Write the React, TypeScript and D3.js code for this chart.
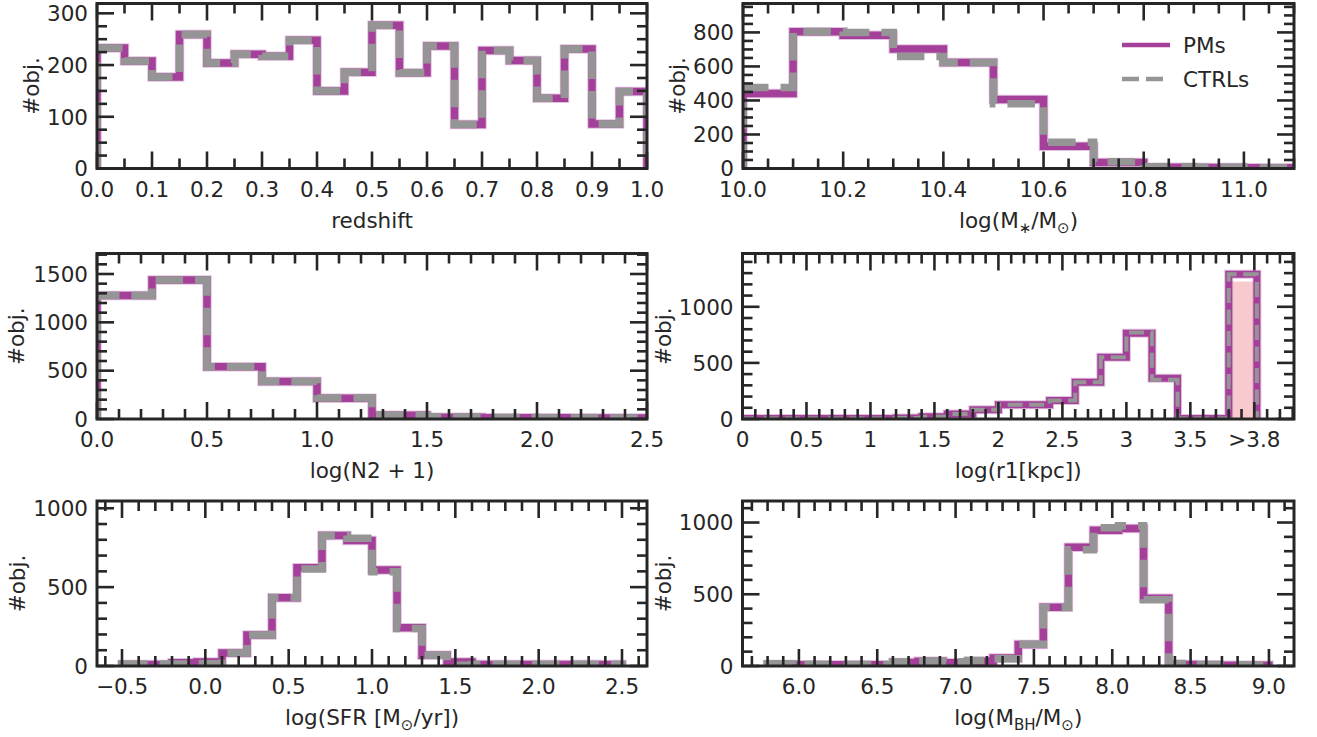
import React from "react";
import * as d3 from "d3";

// ---- colours ----
const PM_COLOR = "#a4409a";
const PM_HALO = "rgba(190,120,185,0.45)";
const CTRL_COLOR = "#959595";
const INK = "#262626";
const PINK = "#f9cacd";
const FONT = "DejaVu Sans";

// ---- redshift ----
const zEdges = [0, 0.05, 0.1, 0.15, 0.2, 0.25, 0.3, 0.35, 0.4, 0.45, 0.5, 0.55, 0.6, 0.65, 0.7, 0.75, 0.8, 0.85, 0.9, 0.95, 1.0];
const zPM = [233, 208, 177, 259, 204, 221, 217, 248, 150, 186, 277, 185, 237, 85, 228, 209, 136, 231, 86, 149];
const zCTRL = [233, 208, 177, 259, 204, 221, 217, 248, 150, 186, 277, 185, 237, 85, 228, 209, 136, 231, 86, 149];
const zXTicks = [0, 0.1, 0.2, 0.3, 0.4, 0.5, 0.6, 0.7, 0.8, 0.9, 1.0];
const zXLabels = ["0.0", "0.1", "0.2", "0.3", "0.4", "0.5", "0.6", "0.7", "0.8", "0.9", "1.0"];
const zYTicks = [0, 100, 200, 300];

// ---- stellar mass ----
const mEdges = [10.0, 10.1, 10.2, 10.3, 10.4, 10.5, 10.6, 10.7, 10.8, 10.9, 11.0, 11.1];
const mPM = [441, 804, 783, 702, 623, 406, 131, 35, 8, 6, 5];
const mCTRL = [476, 806, 800, 659, 623, 380, 155, 40, 10, 7, 5];
const mXTicks = [10.0, 10.2, 10.4, 10.6, 10.8, 11.0];
const mXLabels = ["10.0", "10.2", "10.4", "10.6", "10.8", "11.0"];
const mYTicks = [0, 200, 400, 600, 800];

// ---- N2 ----
const nEdges = [0, 0.25, 0.5, 0.75, 1.0, 1.25, 1.5, 1.75, 2.0, 2.25, 2.5];
const nPM = [1278, 1437, 540, 387, 214, 40, 18, 14, 12, 10];
const nCTRL = [1278, 1437, 540, 390, 216, 40, 20, 15, 12, 10];
const nXTicks = [0, 0.5, 1.0, 1.5, 2.0, 2.5];
const nXLabels = ["0.0", "0.5", "1.0", "1.5", "2.0", "2.5"];
const nYTicks = [0, 500, 1000, 1500];

// ---- r1 ----
const rEdges = [0, 0.2, 0.4, 0.6, 0.8, 1.0, 1.2, 1.4, 1.6, 1.8, 2.0, 2.2, 2.4, 2.6, 2.8, 3.0, 3.2, 3.4, 3.6, 3.8, 4.02];
const rPM = [5, 5, 5, 5, 5, 5, 8, 20, 45, 83, 128, 128, 164, 327, 550, 765, 363, 5, 5, 1290];
const rCTRL = [5, 5, 5, 5, 5, 5, 8, 20, 45, 83, 128, 128, 164, 327, 550, 770, 350, 5, 5, 1290];
const rOverflowEdges = [3.8, 4.02];
const rOverflowValue = 1225;
const rXTicks = [0, 0.5, 1, 1.5, 2, 2.5, 3, 3.5, 4.0];
const rXLabels = ["0", "0.5", "1", "1.5", "2", "2.5", "3", "3.5", ">3.8"];
const rYTicks = [0, 500, 1000];

// ---- SFR ----
const sEdges = [-0.5, -0.35, -0.2, -0.05, 0.1, 0.25, 0.4, 0.55, 0.7, 0.85, 1.0, 1.15, 1.3, 1.45, 1.6, 1.75, 1.9, 2.05, 2.2, 2.35, 2.5];
const sPM = [10, 10, 20, 25, 82, 196, 432, 623, 828, 796, 608, 243, 68, 25, 10, 10, 10, 10, 10, 10];
const sCTRL = [12, 12, 12, 15, 83, 196, 434, 615, 828, 810, 598, 238, 68, 4, 10, 10, 10, 10, 10, 10];
const sXTicks = [-0.5, 0, 0.5, 1.0, 1.5, 2.0, 2.5];
const sXLabels = ["\u22120.5", "0.0", "0.5", "1.0", "1.5", "2.0", "2.5"];
const sYTicks = [0, 500, 1000];

// ---- black hole mass ----
const bEdges = [5.8, 5.96, 6.12, 6.28, 6.44, 6.6, 6.76, 6.92, 7.08, 7.24, 7.4, 7.56, 7.72, 7.88, 8.04, 8.2, 8.36, 8.52, 8.68, 8.84, 9.0];
const bPM = [10, 8, 8, 8, 8, 25, 33, 22, 33, 55, 150, 410, 828, 946, 958, 472, 10, 8, 6, 6];
const bCTRL = [15, 12, 10, 10, 10, 28, 35, 30, 38, 50, 152, 408, 811, 963, 977, 462, 18, 10, 8, 6];
const bXTicks = [6.0, 6.5, 7.0, 7.5, 8.0, 8.5, 9.0];
const bXLabels = ["6.0", "6.5", "7.0", "7.5", "8.0", "8.5", "9.0"];
const bYTicks = [0, 500, 1000];

const FS = 21.5;
const SUB = 15;

type Cfg = {
  id: string;
  left: number; right: number; top: number; bottom: number;
  xDomain: [number, number]; yDomain: [number, number];
  edges: number[]; pm: number[]; ctrl: number[];
  xTicks: number[]; xLabels: string[]; xMinor: number;
  yTicks: number[]; yMinor: number;
  xlabel: React.ReactNode; ylabelX: number;
  pmWidth: number; ctrlWidth: number; dash: string;
  legend?: boolean;
  overflow?: { edges: number[]; value: number };
};

const panels: Cfg[] = [
  {
    id: "z", left: 97, right: 647, top: 3.5, bottom: 168.5,
    xDomain: [0, 1], yDomain: [0, 319],
    edges: zEdges, pm: zPM, ctrl: zCTRL,
    xTicks: zXTicks, xLabels: zXLabels, xMinor: 0.05,
    yTicks: zYTicks, yMinor: 25,
    xlabel: "redshift", ylabelX: 38.5,
    pmWidth: 7.5, ctrlWidth: 7.5, dash: "27.5 12",
  },
  {
    id: "m", left: 743, right: 1294, top: 3.5, bottom: 168.5,
    xDomain: [10.0, 11.1], yDomain: [0, 970],
    edges: mEdges, pm: mPM, ctrl: mCTRL,
    xTicks: mXTicks, xLabels: mXLabels, xMinor: 0.05,
    yTicks: mYTicks, yMinor: 50,
    xlabel: (
      <>
        log(M<tspan dy={5} fontSize={SUB}>{"\u2217"}</tspan>
        <tspan dy={-5}>/M</tspan>
        <tspan dy={5} fontSize={SUB}>{"\u2299"}</tspan>
        <tspan dy={-5}>)</tspan>
      </>
    ),
    ylabelX: 685,
    pmWidth: 7.5, ctrlWidth: 7.5, dash: "27.5 12",
    legend: true,
  },
  {
    id: "n", left: 97, right: 647, top: 253.5, bottom: 419,
    xDomain: [0, 2.5], yDomain: [0, 1712],
    edges: nEdges, pm: nPM, ctrl: nCTRL,
    xTicks: nXTicks, xLabels: nXLabels, xMinor: 0.1,
    yTicks: nYTicks, yMinor: 100,
    xlabel: "log(N2 + 1)", ylabelX: 24,
    pmWidth: 7.5, ctrlWidth: 7.5, dash: "27.5 12",
  },
  {
    id: "r", left: 742.5, right: 1294, top: 253.5, bottom: 419,
    xDomain: [0, 4.31], yDomain: [0, 1475],
    edges: rEdges, pm: rPM, ctrl: rCTRL,
    xTicks: rXTicks, xLabels: rXLabels, xMinor: 0.1,
    yTicks: rYTicks, yMinor: 100,
    xlabel: "log(r1[kpc])", ylabelX: 671,
    pmWidth: 7, ctrlWidth: 4, dash: "15 6.5",
    overflow: { edges: rOverflowEdges, value: rOverflowValue },
  },
  {
    id: "s", left: 97, right: 647, top: 501, bottom: 666,
    xDomain: [-0.65, 2.65], yDomain: [0, 1046],
    edges: sEdges, pm: sPM, ctrl: sCTRL,
    xTicks: sXTicks, xLabels: sXLabels, xMinor: 0.1,
    yTicks: sYTicks, yMinor: 100,
    xlabel: (
      <>
        log(SFR [M<tspan dy={5} fontSize={SUB}>{"\u2299"}</tspan>
        <tspan dy={-5}>/yr])</tspan>
      </>
    ),
    ylabelX: 25,
    pmWidth: 7.5, ctrlWidth: 7.5, dash: "27.5 12",
  },
  {
    id: "b", left: 742.5, right: 1294, top: 501, bottom: 666,
    xDomain: [5.64, 9.16], yDomain: [0, 1150],
    edges: bEdges, pm: bPM, ctrl: bCTRL,
    xTicks: bXTicks, xLabels: bXLabels, xMinor: 0.1,
    yTicks: bYTicks, yMinor: 100,
    xlabel: (
      <>
        log(M<tspan dy={5} fontSize={SUB}>BH</tspan>
        <tspan dy={-5}>/M</tspan>
        <tspan dy={5} fontSize={SUB}>{"\u2299"}</tspan>
        <tspan dy={-5}>)</tspan>
      </>
    ),
    ylabelX: 671,
    pmWidth: 7.5, ctrlWidth: 7.5, dash: "27.5 12",
  },
];

function minorTicks(domain: [number, number], step: number, majors: number[]) {
  const out: number[] = [];
  const i0 = Math.ceil(domain[0] / step - 1e-9);
  const i1 = Math.floor(domain[1] / step + 1e-9);
  for (let i = i0; i <= i1; i++) {
    const v = +(i * step).toFixed(6);
    if (!majors.some((m) => Math.abs(m - v) < step * 0.01)) out.push(v);
  }
  return out;
}

function stepPoints(edges: number[], vals: number[]): [number, number][] {
  const pts: [number, number][] = [[edges[0], 0]];
  vals.forEach((v, i) => {
    pts.push([edges[i], v]);
    pts.push([edges[i + 1], v]);
  });
  pts.push([edges[edges.length - 1], 0]);
  return pts;
}

const MAJ = 17;
const MIN = 10;
const TW = 2.6;

function Panel({ cfg }: { cfg: Cfg }) {
  const x = d3.scaleLinear().domain(cfg.xDomain).range([cfg.left, cfg.right]);
  const y = d3.scaleLinear().domain(cfg.yDomain).range([cfg.bottom, cfg.top]);
  const line = d3
    .line<[number, number]>()
    .x((d) => x(d[0]))
    .y((d) => y(d[1]));
  const pmPath = line(stepPoints(cfg.edges, cfg.pm)) || "";
  const ctrlPath = line(stepPoints(cfg.edges, cfg.ctrl)) || "";
  const xMin = minorTicks(cfg.xDomain, cfg.xMinor, cfg.xTicks);
  const yMin = minorTicks(cfg.yDomain, cfg.yMinor, cfg.yTicks);
  const clipId = `clip-${cfg.id}`;
  const cx = (cfg.left + cfg.right) / 2;
  const cy = (cfg.top + cfg.bottom) / 2;

  return (
    <g>
      <defs>
        <clipPath id={clipId}>
          <rect x={cfg.left} y={cfg.top} width={cfg.right - cfg.left} height={cfg.bottom - cfg.top} />
        </clipPath>
      </defs>
      <g clipPath={`url(#${clipId})`}>
        {cfg.overflow && (
          <rect
            x={x(cfg.overflow.edges[0])}
            y={y(cfg.overflow.value)}
            width={x(cfg.overflow.edges[1]) - x(cfg.overflow.edges[0])}
            height={y(0) - y(cfg.overflow.value)}
            fill={PINK}
          />
        )}
        <path d={pmPath} fill="none" stroke={PM_HALO} strokeWidth={cfg.pmWidth + 2} strokeLinejoin="miter" />
        <path d={pmPath} fill="none" stroke={PM_COLOR} strokeWidth={cfg.pmWidth} strokeLinejoin="miter" />
        <path
          d={ctrlPath}
          fill="none"
          stroke={CTRL_COLOR}
          strokeWidth={cfg.ctrlWidth}
          strokeDasharray={cfg.dash}
          strokeLinejoin="miter"
        />
      </g>

      {/* ticks on all four sides, pointing inwards */}
      <g stroke={INK} strokeWidth={TW}>
        {cfg.xTicks.map((t) => (
          <g key={`xt${t}`}>
            <line x1={x(t)} x2={x(t)} y1={cfg.bottom} y2={cfg.bottom - MAJ} />
            <line x1={x(t)} x2={x(t)} y1={cfg.top} y2={cfg.top + MAJ} />
          </g>
        ))}
        {xMin.map((t) => (
          <g key={`xm${t}`}>
            <line x1={x(t)} x2={x(t)} y1={cfg.bottom} y2={cfg.bottom - MIN} />
            <line x1={x(t)} x2={x(t)} y1={cfg.top} y2={cfg.top + MIN} />
          </g>
        ))}
        {cfg.yTicks.map((t) => (
          <g key={`yt${t}`}>
            <line x1={cfg.left} x2={cfg.left + MAJ} y1={y(t)} y2={y(t)} />
            <line x1={cfg.right} x2={cfg.right - MAJ} y1={y(t)} y2={y(t)} />
          </g>
        ))}
        {yMin.map((t) => (
          <g key={`ym${t}`}>
            <line x1={cfg.left} x2={cfg.left + MIN} y1={y(t)} y2={y(t)} />
            <line x1={cfg.right} x2={cfg.right - MIN} y1={y(t)} y2={y(t)} />
          </g>
        ))}
      </g>

      <rect
        x={cfg.left}
        y={cfg.top}
        width={cfg.right - cfg.left}
        height={cfg.bottom - cfg.top}
        fill="none"
        stroke={INK}
        strokeWidth={3}
      />

      <g fill={INK} fontFamily={FONT} fontSize={FS}>
        {cfg.xTicks.map((t, i) => (
          <text key={`xl${t}`} x={x(t)} y={cfg.bottom + 28} textAnchor="middle">
            {cfg.xLabels[i]}
          </text>
        ))}
        {cfg.yTicks.map((t) => (
          <text key={`yl${t}`} x={cfg.left - 9} y={y(t)} dy="0.36em" textAnchor="end">
            {t}
          </text>
        ))}
        <text x={cx} y={cfg.bottom + 59} textAnchor="middle">
          {cfg.xlabel}
        </text>
        <text transform={`translate(${cfg.ylabelX},${cy}) rotate(-90)`} textAnchor="middle">
          #obj.
        </text>
      </g>

      {cfg.legend && (
        <g fontFamily={FONT} fontSize={FS} fill={INK}>
          <line x1={1122} x2={1170} y1={45} y2={45} stroke={PM_COLOR} strokeWidth={4.5} />
          <text x={1183} y={53}>PMs</text>
          <line x1={1122} x2={1170} y1={79} y2={79} stroke={CTRL_COLOR} strokeWidth={4.5} strokeDasharray="17 7" />
          <text x={1183} y={87}>CTRLs</text>
        </g>
      )}
    </g>
  );
}

export default function App() {
  return (
    <svg
      width={1317}
      height={737}
      viewBox="0 0 1317 737"
      style={{ position: "absolute", left: 0, top: 0, background: "#fff" }}
    >
      <rect width={1317} height={737} fill="#fff" />
      {panels.map((p) => (
        <Panel key={p.id} cfg={p} />
      ))}
    </svg>
  );
}
